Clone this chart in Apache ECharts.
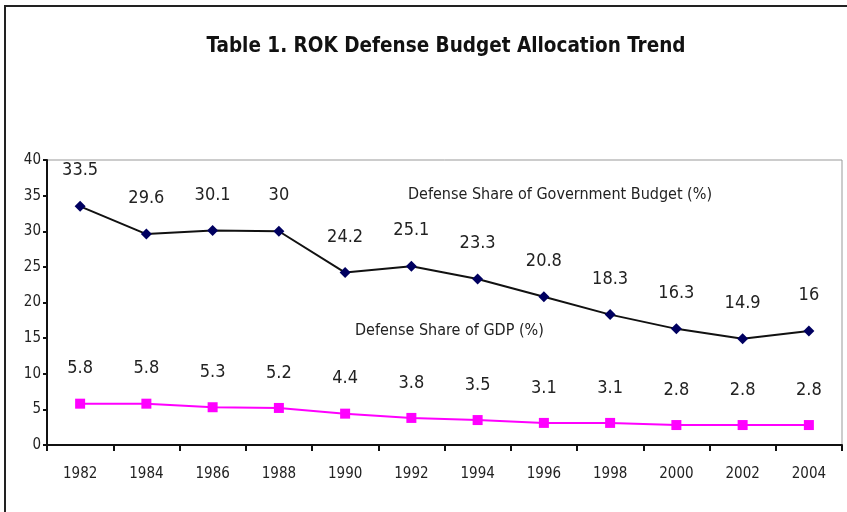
<!DOCTYPE html>
<html>
<head>
<meta charset="utf-8">
<script src="https://cdn.jsdelivr.net/npm/echarts@6/dist/echarts.min.js"></script>
<style>
html,body{margin:0;padding:0;background:#fff;}
#c{width:847px;height:512px;}
</style>
</head>
<body>
<div id="c"></div>
<script>
const years = ['1982','1984','1986','1988','1990','1992','1994','1996','1998','2000','2002','2004'];
const govBudgetShare = [33.5, 29.6, 30.1, 30, 24.2, 25.1, 23.3, 20.8, 18.3, 16.3, 14.9, 16];
const gdpShare = [5.8, 5.8, 5.3, 5.2, 4.4, 3.8, 3.5, 3.1, 3.1, 2.8, 2.8, 2.8];
const yTicks = { min: 0, max: 40, interval: 5 };
const titleText = 'Table 1. ROK Defense Budget Allocation Trend';
const govLabel = 'Defense Share of Government Budget (%)';
const gdpLabel = 'Defense Share of GDP (%)';

const FONT = '"Liberation Sans Narrow", "DejaVu Sans Condensed", "Arial Narrow", sans-serif';

const chart = echarts.init(document.getElementById('c'), null, {renderer: 'canvas'});
chart.setOption({
  animation: false,
  backgroundColor: '#fff',
  textStyle: { fontFamily: FONT },
  title: {
    text: titleText,
    left: 441, textAlign: 'center', top: 31,
    textStyle: { fontFamily: FONT, fontWeight: 'bold', fontSize: 20.5, color: '#111' }
  },
  grid: { left: 47, right: 5, top: 160, bottom: 67, show: true, borderColor: '#999', borderWidth: 1, backgroundColor: 'transparent' },
  xAxis: {
    type: 'category', data: years, boundaryGap: true,
    axisLine: { lineStyle: { color: '#111', width: 2 } },
    axisTick: { show: true, length: 6, lineStyle: { color: '#111', width: 2 } },
    axisLabel: { color: '#222', fontSize: 15, margin: 22, fontFamily: FONT },
    splitLine: { show: false }
  },
  yAxis: {
    type: 'value', min: yTicks.min, max: yTicks.max, interval: yTicks.interval,
    axisLine: { show: true, lineStyle: { color: '#111', width: 2 } },
    axisTick: { show: true, length: 4, lineStyle: { color: '#111', width: 2 } },
    axisLabel: { color: '#222', fontSize: 15, margin: 6, fontFamily: FONT },
    splitLine: { show: false }
  },
  graphic: [
    { type: 'rect', shape: { x: 5, y: 6, width: 900, height: 600 }, style: { fill: 'none', stroke: '#222', lineWidth: 2 }, silent: true, z: -1 },
    { type: 'text', left: 408, top: 187, style: { text: govLabel, font: '16px ' + FONT, fill: '#222' } },
    { type: 'text', left: 355, top: 323, style: { text: gdpLabel, font: '16px ' + FONT, fill: '#222' } }
  ],
  series: [
    {
      name: govLabel, type: 'line', data: govBudgetShare,
      symbol: 'diamond', symbolSize: 11,
      itemStyle: { color: '#000060' },
      lineStyle: { color: '#111', width: 2 },
      label: { show: true, position: 'top', distance: 21, fontSize: 18, color: '#222', fontFamily: FONT }
    },
    {
      name: gdpLabel, type: 'line', data: gdpShare,
      symbol: 'rect', symbolSize: 10,
      itemStyle: { color: '#ff00ff' },
      lineStyle: { color: '#ff00ff', width: 2 },
      label: { show: true, position: 'top', distance: 21, fontSize: 18, color: '#222', fontFamily: FONT }
    }
  ]
});
</script>
</body>
</html>
